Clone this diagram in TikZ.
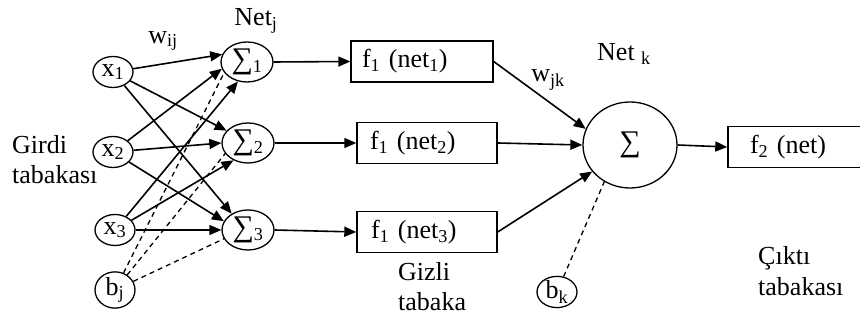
\documentclass[tikz,border=0pt]{standalone}
\usepackage{fontspec}
\setmainfont{Liberation Serif}
\usetikzlibrary{shapes.geometric,arrows.meta}
\newcommand{\bigsig}{{\fontsize{30}{30}\selectfont ∑}}
\begin{document}
\begin{tikzpicture}[x=1pt,y=1pt,
  every node/.style={font=\fontsize{26}{29}\selectfont},
  inp/.style={draw, ellipse, minimum width=40pt, minimum height=31pt, inner sep=0pt, line width=1.3pt},
  sig/.style={draw, ellipse, minimum width=52pt, minimum height=40pt, inner sep=0pt, line width=1.3pt},
  fbox/.style={draw, rectangle, minimum height=41pt, inner ysep=0pt, align=left, line width=1.4pt},
  arr/.style={line width=1.6pt, -{Triangle[length=12pt,width=10pt]}},
  dsh/.style={line width=1.3pt, dash pattern=on 5pt off 4pt},
  lbl/.style={inner sep=0pt}
]
\useasboundingbox (0,0) rectangle (860,323);
% input layer
\node[inp] (x1) at (113,251) {x\textsubscript{1}};
\node[inp] (x2) at (113,171) {x\textsubscript{2}};
\node[inp] (x3) at (115,93) {x\textsubscript{3}};
\node[inp] (bj) at (115,33) {b\textsubscript{j}};
% hidden sums
\node[sig] (s1) at (247,261) {\bigsig\textsubscript{1}};
\node[sig] (s2) at (248,180) {\bigsig\textsubscript{2}};
\node[sig] (s3) at (248,93) {\bigsig\textsubscript{3}};
% hidden activation boxes
\node[fbox, text width=120pt, inner xsep=11pt] (b1) at (422,261.5) {f\textsubscript{1} (net\textsubscript{1})};
\node[fbox, text width=114pt, inner xsep=13pt] (b2) at (427,180) {f\textsubscript{1} (net\textsubscript{2})};
\node[fbox, text width=112pt, inner xsep=14pt] (b3) at (427,91) {f\textsubscript{1} (net\textsubscript{3})};
% output
\node[draw, ellipse, minimum width=94pt, minimum height=86pt, inner sep=0pt, line width=1.3pt] (K) at (630,178) {\bigsig};
\node[fbox, text width=112pt, inner xsep=11pt] (f2) at (795,176) {\hspace*{11pt}f\textsubscript{2} (net)};
\node[inp] (bk) at (557,31) {b\textsubscript{k}};
% labels
\node[lbl] (lnetj) at (256,302) {Net\textsubscript{j}};
\node[lbl] (lwij) at (163,282) {w\textsubscript{ij}};
\node[lbl] (lwjk) at (548,243) {w\textsubscript{jk}};
\node[lbl] (lnetk) at (624,269) {Net \textsubscript{k}};
\node[lbl, anchor=west] (lg1) at (12,178) {Girdi};
\node[lbl, anchor=west] (lg2) at (12,148) {tabakası};
\node[lbl, anchor=west] (lh1) at (398,51) {Gizli};
\node[lbl, anchor=west] (lh2) at (398,21) {tabaka};
\node[lbl, anchor=west] (lo1) at (758,65) {Çıktı};
\node[lbl, anchor=west] (lo2) at (758,36) {tabakası};
% input -> sums
\draw[arr] (x1) -- (s1.163);
\draw[arr] (x1) -- (s2.150);
\draw[arr] (x1) -- (s3.135);
\draw[arr] (x2) -- (s1.195);
\draw[arr] (x2) -- (s2.180);
\draw[arr] (x2) -- (s3.160);
\draw[arr] (x3) -- (s1.245);
\draw[arr] (x3) -- (s2.230);
\draw[arr] (x3) -- (s3.180);
% bias j
\draw[dsh] (bj) -- (s1.205);
\draw[dsh] (bj) -- (s2.205);
\draw[dsh] (bj) -- (s3.200);
% sums -> boxes
\draw[arr] (s1.east) -- (b1.west);
\draw[arr] (s2.east) -- (b2.west);
\draw[arr] (s3.east) -- (b3.west);
% boxes -> output sum
\draw[arr] (b1.east) -- (K.160);
\draw[arr] (b2.east) -- (K.180);
\draw[arr] (b3.east) -- (K.215);
\draw[dsh] (bk) -- (K.235);
\draw[arr] (K.east) -- (f2.west);
\end{tikzpicture}
\end{document}
